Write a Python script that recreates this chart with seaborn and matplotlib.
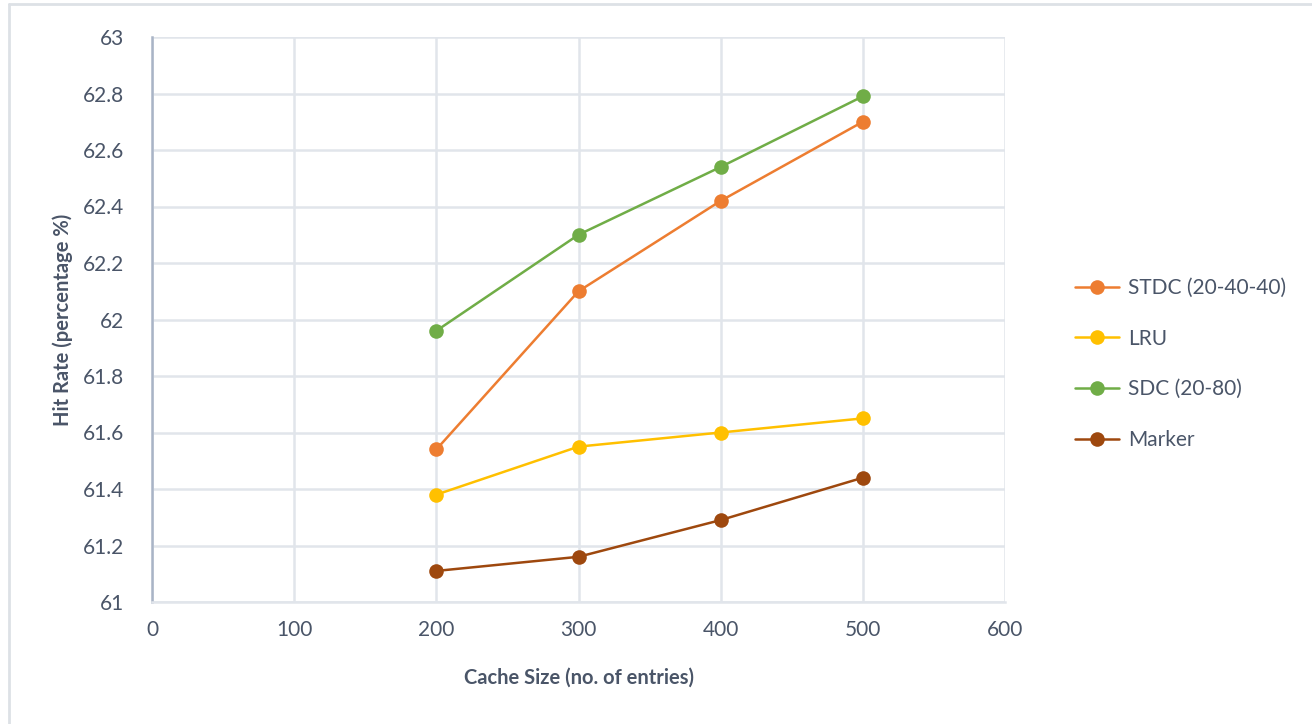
import matplotlib
matplotlib.use("Agg")
import matplotlib.pyplot as plt
import seaborn as sns
import pandas as pd
from matplotlib.lines import Line2D

cache_sizes = [200, 300, 400, 500]
stdc = [61.54, 62.10, 62.42, 62.70]
lru = [61.38, 61.55, 61.60, 61.65]
sdc = [61.96, 62.30, 62.54, 62.79]
marker = [61.11, 61.16, 61.29, 61.44]
series_names = ["STDC (20-40-40)", "LRU", "SDC (20-80)", "Marker"]
x_ticks = [0, 100, 200, 300, 400, 500, 600]
y_ticks = [61, 61.2, 61.4, 61.6, 61.8, 62, 62.2, 62.4, 62.6, 62.8, 63]
y_tick_labels = ["61", "61.2", "61.4", "61.6", "61.8", "62", "62.2", "62.4", "62.6", "62.8", "63"]

colors = ["#ED7D31", "#FFC000", "#70AD47", "#9E480E"]

rows = []
for name, vals in zip(series_names, [stdc, lru, sdc, marker]):
    for x, v in zip(cache_sizes, vals):
        rows.append({"Cache Size": x, "Hit Rate": v, "Series": name})
df = pd.DataFrame(rows)

sns.set_theme(style="white")
plt.rcParams["font.family"] = ["Lato", "DejaVu Sans"]
text_color = "#4A5568"

fig = plt.figure(figsize=(13.12, 7.24), dpi=100)
ax = fig.add_axes([152/1312, 1 - 602/724, (1005-152)/1312, (602-37)/724])

sns.lineplot(data=df, x="Cache Size", y="Hit Rate", hue="Series",
             palette=dict(zip(series_names, colors)), hue_order=series_names,
             marker="o", markersize=10.5, markeredgewidth=0, linewidth=1.8,
             ax=ax, legend=False, zorder=3)

ax.set_xlim(0, 600)
ax.set_ylim(61, 63)
ax.set_xticks(x_ticks)
ax.set_xticklabels([str(t) for t in x_ticks])
ax.set_yticks(y_ticks)
ax.set_yticklabels(y_tick_labels)
ax.grid(True, color="#E1E5EB", linewidth=1.8)
ax.set_axisbelow(True)
for s in ["top", "right"]:
    ax.spines[s].set_visible(False)
ax.spines["left"].set_color("#A9B4C6")
ax.spines["left"].set_linewidth(1.8)
ax.spines["bottom"].set_color("#E1E5EB")
ax.spines["bottom"].set_linewidth(1.8)
ax.tick_params(axis="both", length=0, labelsize=15, colors=text_color)
ax.tick_params(axis="y", pad=20)
ax.tick_params(axis="x", pad=13)

ax.set_xlabel("Cache Size (no. of entries)", fontsize=14.5, fontweight="bold",
              color=text_color, labelpad=20)
ax.set_ylabel("Hit Rate (percentage %)", fontsize=14.5, fontweight="bold",
              color=text_color, labelpad=7)

handles = [Line2D([0], [0], color=c, marker="o", markersize=10.5, markeredgewidth=0,
                  linewidth=1.8) for c in colors]
fig.legend(handles, series_names, loc="center left",
           bbox_to_anchor=(1056/1312, 1 - 364/724), frameon=False,
           fontsize=15, labelcolor=text_color, handlelength=2.1,
           labelspacing=1.47, handletextpad=0.45)

# outer chart border (top and left visible)
fig.add_artist(Line2D([9/1312, 1], [1 - 4/724, 1 - 4/724], transform=fig.transFigure,
                      color="#DDE1E6", linewidth=2))
fig.add_artist(Line2D([9/1312, 9/1312], [0, 1 - 4/724], transform=fig.transFigure,
                      color="#DDE1E6", linewidth=2))

fig.savefig("out.png", dpi=100)
